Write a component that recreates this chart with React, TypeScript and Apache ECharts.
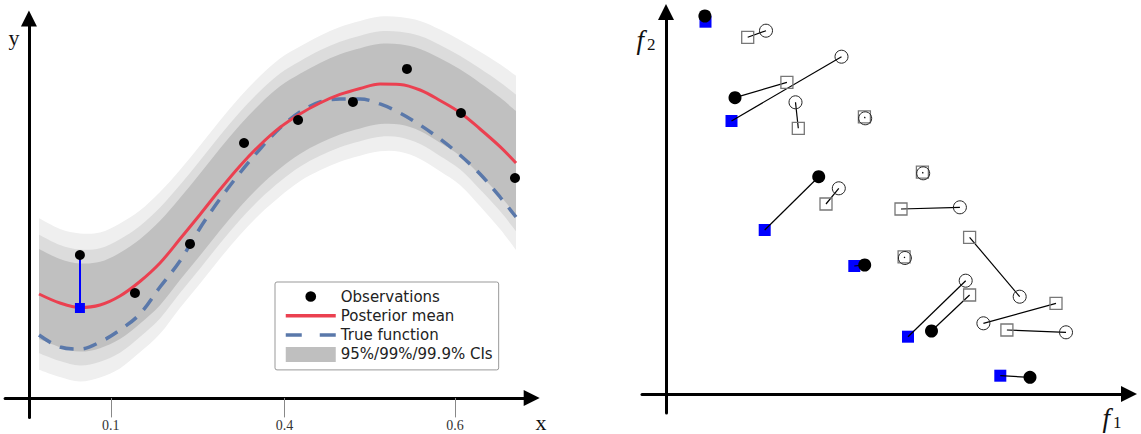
import React, { useEffect, useRef } from 'react';
import * as echarts from 'echarts';

// ---------- Left panel: GP regression ----------
const gridX = [0.059, 0.182, 0.299, 0.417, 0.534, 0.651, 0.769, 0.886, 1.004, 1.121, 1.238, 1.356, 1.473, 1.59, 1.708, 1.825, 1.943, 2.06, 2.177, 2.295, 2.412, 2.529, 2.647, 2.764, 2.858];
const posteriorMean = [1.072, 0.979, 0.933, 0.959, 1.052, 1.201, 1.392, 1.639, 1.892, 2.149, 2.392, 2.608, 2.789, 2.928, 3.041, 3.129, 3.191, 3.237, 3.232, 3.175, 3.067, 2.943, 2.773, 2.591, 2.423];
const trueFunction = [0.649, 0.526, 0.505, 0.577, 0.701, 0.866, 1.144, 1.412, 1.753, 2.052, 2.32, 2.567, 2.784, 2.948, 3.052, 3.082, 3.082, 3.031, 2.938, 2.814, 2.67, 2.505, 2.309, 2.072, 1.866];
const posteriorSd = [0.237, 0.232, 0.232, 0.227, 0.227, 0.222, 0.222, 0.216, 0.216, 0.216, 0.216, 0.216, 0.216, 0.211, 0.211, 0.211, 0.211, 0.211, 0.211, 0.216, 0.222, 0.227, 0.242, 0.258, 0.273];
const obsX = [0.299, 0.622, 0.945, 1.262, 1.579, 1.901, 2.218, 2.535, 2.852];
const obsY = [1.474, 1.082, 1.588, 2.629, 2.866, 3.052, 3.392, 2.938, 2.268];
const queriedObs = 0;
const queriedMean = 0.928;
const xTickValues = [0.48, 1.5, 2.5];
const xTickLabels = ['0.1', '0.4', '0.6'];
const ciZ = [3.291, 2.576, 1.96];
const legendNames = ['Observations', 'Posterior mean', 'True function', '95%/99%/99.9% CIs'];

// ---------- Right panel: f1 / f2 objective space ----------
const filledCircles = [[0.389, 3.78], [0.69, 2.963], [1.527, 2.173], [1.987, 1.29], [2.655, 0.63], [3.64, 0.167]];
const blueSquares = [[0.395, 3.723], [0.655, 2.73], [0.987, 1.64], [1.883, 1.28], [2.42, 0.573], [3.343, 0.183]];
const openCircles = [[1.0, 3.633], [1.755, 3.373], [1.295, 2.917], [1.992, 2.757], [2.572, 2.207], [1.728, 2.057], [2.939, 1.867], [2.389, 1.36], [3.537, 0.973], [2.997, 1.133], [3.174, 0.707], [4.0, 0.617]];
const openSquares = [[0.817, 3.567], [1.209, 3.117], [1.323, 2.657], [1.984, 2.771], [2.564, 2.219], [1.6, 1.9], [2.35, 1.85], [2.381, 1.371], [3.036, 1.567], [3.036, 0.99], [3.9, 0.907], [3.409, 0.64]];
const links: [string, number, string, number][] = [
  ['filled', 0, 'blue', 0],
  ['sq', 0, 'circ', 0],
  ['filled', 1, 'sq', 1],
  ['blue', 1, 'circ', 1],
  ['circ', 2, 'sq', 2],
  ['sq', 3, 'circ', 3],
  ['sq', 4, 'circ', 4],
  ['filled', 2, 'blue', 2],
  ['circ', 5, 'sq', 5],
  ['sq', 6, 'circ', 6],
  ['blue', 3, 'filled', 3],
  ['sq', 7, 'circ', 7],
  ['sq', 8, 'circ', 8],
  ['circ', 9, 'blue', 4],
  ['sq', 9, 'filled', 4],
  ['circ', 10, 'sq', 10],
  ['sq', 11, 'circ', 11],
  ['blue', 5, 'filled', 5],
];

const pointSets: Record<string, number[][]> = {
  filled: filledCircles,
  blue: blueSquares,
  circ: openCircles,
  sq: openSquares,
};

const bandColors = ['#efefef', '#dcdcdc', '#c0c0c0'];

// Catmull-Rom style bezier segments through screen points (rendering only)
function smoothSegments(pts: number[][], start: boolean): string {
  let d = start ? `M${pts[0][0]},${pts[0][1]}` : `L${pts[0][0]},${pts[0][1]}`;
  const t = 1 / 6;
  for (let i = 0; i < pts.length - 1; i++) {
    const p0 = pts[i - 1] || pts[i];
    const p1 = pts[i];
    const p2 = pts[i + 1];
    const p3 = pts[i + 2] || p2;
    const c1x = p1[0] + (p2[0] - p0[0]) * t;
    const c1y = p1[1] + (p2[1] - p0[1]) * t;
    const c2x = p2[0] - (p3[0] - p1[0]) * t;
    const c2y = p2[1] - (p3[1] - p1[1]) * t;
    d += ` C${c1x},${c1y} ${c2x},${c2y} ${p2[0]},${p2[1]}`;
  }
  return d;
}

export default function App() {
  const ref = useRef<HTMLDivElement>(null);
  useEffect(() => {
    if (!ref.current) return;
    const chart = echarts.init(ref.current, undefined, { renderer: 'svg' });

    const axisLineBase = {
      show: true,
      onZero: true,
      lineStyle: { color: '#000', width: 3 },
      symbol: ['none', 'triangle'],
      symbolSize: [16, 16],
    };
    const hidden = {
      axisTick: { show: false },
      axisLabel: { show: false },
      splitLine: { show: false },
    };

    const tickLabel = (v: number) => {
      let best = 0;
      xTickValues.forEach((t, i) => {
        if (Math.abs(t - v) < Math.abs(xTickValues[best] - v)) best = i;
      });
      return xTickLabels[best];
    };

    const option: any = {
      animation: false,
      backgroundColor: '#fff',
      grid: [
        { left: 5.1, right: 609.3, top: 18.5, bottom: 16.6, containLabel: false, outerBoundsMode: 'none' },
        { left: 642, right: 12, top: 12, bottom: 21, containLabel: false, outerBoundsMode: 'none' },
      ],
      xAxis: [
        {
          gridIndex: 0,
          type: 'value',
          position: 'bottom',
          min: -0.14,
          max: 2.95,
          axisLine: axisLineBase,
          axisTick: { show: true, customValues: xTickValues, length: 11, lineStyle: { color: '#888', width: 1 } },
          axisLabel: {
            show: true,
            customValues: xTickValues,
            formatter: tickLabel,
            margin: 1,
            color: '#333',
            fontFamily: 'Liberation Serif',
            fontSize: 14,
            lineHeight: 15,
          },
          splitLine: { show: false },
        },
        {
          gridIndex: 0,
          type: 'value',
          position: 'bottom',
          min: -0.14,
          max: 2.95,
          axisLine: { show: false, onZero: true },
          axisTick: { show: true, inside: true, customValues: xTickValues, length: 11, lineStyle: { color: '#888', width: 1 } },
          axisLabel: { show: false },
          splitLine: { show: false },
        },
        {
          gridIndex: 1,
          type: 'value',
          min: -0.24,
          max: 4.63,
          axisLine: axisLineBase,
          ...hidden,
        },
      ],
      yAxis: [
        { gridIndex: 0, type: 'value', min: -0.2, max: 3.912, axisLine: axisLineBase, ...hidden },
        { gridIndex: 1, type: 'value', min: -0.19, max: 3.82, axisLine: axisLineBase, ...hidden },
      ],
      legend: {
        orient: 'vertical',
        left: 275,
        top: 282,
        itemWidth: 50,
        itemHeight: 15,
        itemGap: 4.3,
        selectedMode: false,
        padding: [7, 6, 8, 9],
        backgroundColor: 'rgba(255,255,255,0.85)',
        borderColor: '#999',
        borderWidth: 1,
        borderRadius: 2,
        textStyle: { fontFamily: 'DejaVu Sans', fontSize: 15, color: '#222' },
        data: [
          {
            name: legendNames[0],
            icon: 'path://M0,0M14,14M12,7A5,5,0,1,1,2,7A5,5,0,1,1,12,7Z',
            itemStyle: { color: '#000', opacity: 1 },
          },
          {
            name: legendNames[1],
            itemStyle: { color: 'rgba(0,0,0,0)', borderWidth: 0 },
            lineStyle: { color: '#eb4050', width: 3.5 },
          },
          {
            name: legendNames[2],
            itemStyle: { color: 'rgba(0,0,0,0)', borderWidth: 0 },
            lineStyle: { type: [16, 18], width: 3.5, color: '#5a78aa' },
          },
          { name: legendNames[3], icon: 'rect', itemStyle: { color: '#bfbfbf' } },
        ],
      },
      graphic: [
        {
          type: 'text',
          x: 14,
          y: 37,
          style: { text: 'y', fontFamily: 'Liberation Serif', fontSize: 22, fill: '#111', align: 'center', verticalAlign: 'middle' },
        },
        {
          type: 'text',
          x: 541,
          y: 422,
          style: { text: 'x', fontFamily: 'Liberation Serif', fontSize: 22, fill: '#111', align: 'center', verticalAlign: 'middle' },
        },
        {
          type: 'text',
          x: 646,
          y: 38,
          style: {
            text: '{f|f}{s|2}',
            align: 'center',
            verticalAlign: 'middle',
            fill: '#111',
            rich: {
              f: { fontFamily: 'Liberation Serif', fontStyle: 'italic', fontSize: 27, lineHeight: 30, verticalAlign: 'bottom' },
              s: { fontFamily: 'Liberation Serif', fontSize: 17, lineHeight: 17, verticalAlign: 'bottom', padding: [0, 0, 0, 3] },
            },
          },
        },
        {
          type: 'text',
          x: 1112,
          y: 416,
          style: {
            text: '{f|f}{s|1}',
            align: 'center',
            verticalAlign: 'middle',
            fill: '#111',
            rich: {
              f: { fontFamily: 'Liberation Serif', fontStyle: 'italic', fontSize: 27, lineHeight: 30, verticalAlign: 'bottom' },
              s: { fontFamily: 'Liberation Serif', fontSize: 17, lineHeight: 17, verticalAlign: 'bottom', padding: [0, 0, 0, 3] },
            },
          },
        },
      ],
      series: [
        {
          type: 'custom',
          name: legendNames[3],
          xAxisIndex: 0,
          yAxisIndex: 0,
          data: ciZ.map((z, k) => [gridX[0], k]),
          renderItem: (params: any, api: any) => {
            const k = params.dataIndex;
            const z = ciZ[k];
            const upper = gridX.map((x, i) => api.coord([x, posteriorMean[i] + z * posteriorSd[i]]));
            const lower = gridX.map((x, i) => api.coord([x, posteriorMean[i] - z * posteriorSd[i]])).reverse();
            const d = smoothSegments(upper, true) + ' ' + smoothSegments(lower, false) + ' Z';
            return {
              type: 'path',
              shape: { pathData: d },
              style: { fill: bandColors[k], stroke: 'none' },
              silent: true,
            };
          },
          itemStyle: { color: '#bfbfbf' },
          silent: true,
          z: 1,
        },
        {
          type: 'line',
          name: legendNames[2],
          xAxisIndex: 0,
          yAxisIndex: 0,
          data: gridX.map((x, i) => [x, trueFunction[i]]),
          symbol: 'none',
          smooth: 0.35,
          lineStyle: { color: '#5a78aa', width: 3.5, type: [14, 10] },
          itemStyle: { color: '#5a78aa' },
          silent: true,
          z: 3,
        },
        {
          type: 'line',
          name: legendNames[1],
          xAxisIndex: 0,
          yAxisIndex: 0,
          data: gridX.map((x, i) => [x, posteriorMean[i]]),
          symbol: 'none',
          smooth: 0.35,
          lineStyle: { color: '#eb4050', width: 3 },
          itemStyle: { color: '#eb4050' },
          silent: true,
          z: 4,
        },
        {
          type: 'lines',
          coordinateSystem: 'cartesian2d',
          xAxisIndex: 0,
          yAxisIndex: 0,
          data: [{ coords: [[obsX[queriedObs], obsY[queriedObs]], [obsX[queriedObs], queriedMean]] }],
          lineStyle: { color: '#0000ff', width: 2, opacity: 1 },
          silent: true,
          z: 5,
        },
        {
          type: 'scatter',
          name: legendNames[0],
          xAxisIndex: 0,
          yAxisIndex: 0,
          data: obsX.map((x, i) => [x, obsY[i]]),
          symbol: 'circle',
          symbolSize: 10,
          itemStyle: { color: '#000', opacity: 1 },
          silent: true,
          z: 6,
        },
        {
          type: 'scatter',
          name: 'query',
          xAxisIndex: 0,
          yAxisIndex: 0,
          data: [[obsX[queriedObs], queriedMean]],
          symbol: 'rect',
          symbolSize: 10,
          itemStyle: { color: '#0000ff', opacity: 1 },
          silent: true,
          z: 6,
        },
        // right panel
        {
          type: 'scatter',
          name: 'blueSquares',
          xAxisIndex: 2,
          yAxisIndex: 1,
          data: blueSquares,
          symbol: 'rect',
          symbolSize: 12,
          itemStyle: { color: '#0000ff', opacity: 1 },
          silent: true,
          z: 2,
        },
        {
          type: 'lines',
          coordinateSystem: 'cartesian2d',
          xAxisIndex: 2,
          yAxisIndex: 1,
          data: links.map(([a, ia, b, ib]) => ({ coords: [pointSets[a][ia], pointSets[b][ib]] })),
          lineStyle: { color: '#000', width: 1.2, opacity: 1 },
          silent: true,
          z: 3,
        },
        {
          type: 'scatter',
          name: 'openSquares',
          xAxisIndex: 2,
          yAxisIndex: 1,
          data: openSquares,
          symbol: 'rect',
          symbolSize: 12,
          itemStyle: { color: 'rgba(0,0,0,0)', borderColor: '#777', borderWidth: 1.3, opacity: 1 },
          silent: true,
          z: 4,
        },
        {
          type: 'scatter',
          name: 'openCircles',
          xAxisIndex: 2,
          yAxisIndex: 1,
          data: openCircles,
          symbol: 'circle',
          symbolSize: 13,
          itemStyle: { color: 'rgba(0,0,0,0)', borderColor: '#222', borderWidth: 1, opacity: 1 },
          silent: true,
          z: 4,
        },
        {
          type: 'scatter',
          name: 'filledCircles',
          xAxisIndex: 2,
          yAxisIndex: 1,
          data: filledCircles,
          symbol: 'circle',
          symbolSize: 13,
          itemStyle: { color: '#000', opacity: 1 },
          silent: true,
          z: 5,
        },
      ],
    };

    chart.setOption(option);
    return () => chart.dispose();
  }, []);

  return (
    <div
      ref={ref}
      style={{ position: 'fixed', left: 0, top: 0, width: 1141, height: 434, background: '#fff' }}
    />
  );
}
